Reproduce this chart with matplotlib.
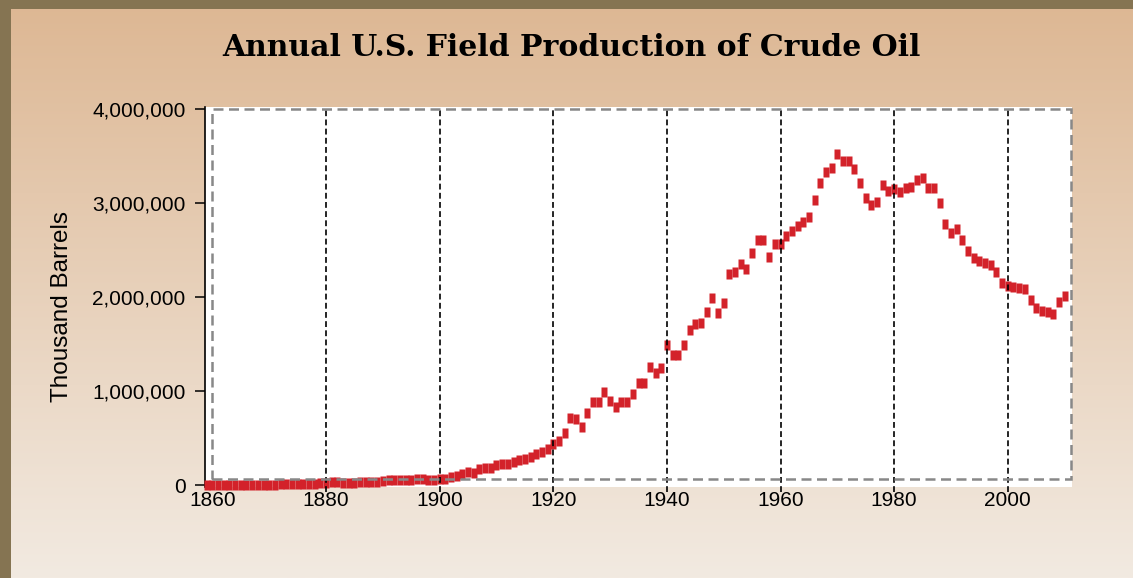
#!/usr/bin/env python3

import numpy as np
import matplotlib
matplotlib.use("Agg")
from matplotlib import pyplot as plt
from matplotlib.patches import Rectangle

# annual U.S. field production of crude oil, thousand barrels
years = list(range(1859, 2011))
production = [
	2, 500, 2114, 3057, 2611, 2116, 2498, 3598, 3347, 3646,                 # 1859-1868
	4215, 5261, 5205, 6293, 9894, 10927, 8788, 9133, 13350, 15397,          # 1869-1878
	19914, 26286, 27661, 30350, 23450, 24218, 21859, 28065, 28283, 27612,   # 1879-1888
	35164, 45824, 54293, 50515, 48431, 49344, 52892, 60960, 60476, 55364,   # 1889-1898
	57071, 63621, 69389, 88767, 100461, 117081, 134717, 126494, 166095, 178527,   # 1899-1908
	183171, 209557, 220449, 222935, 248446, 265763, 281104, 300767, 335316, 355928,   # 1909-1918
	378367, 440000, 472000, 555000, 710000, 700000, 620000, 765000, 885000, 885000,   # 1919-1928
	990000, 890000, 830000, 880000, 880000, 970000, 1080000, 1080000, 1260000, 1190000,   # 1929-1938
	1240000, 1490000, 1380000, 1380000, 1490000, 1650000, 1710000, 1720000, 1840000, 1990000,   # 1939-1948
	1830000, 1940000, 2240000, 2270000, 2350000, 2300000, 2470000, 2610000, 2610000, 2430000,   # 1949-1958
	2560000, 2560000, 2650000, 2700000, 2760000, 2800000, 2850000, 3030000, 3210000, 3330000,   # 1959-1968
	3370000, 3520000, 3450000, 3450000, 3360000, 3210000, 3050000, 2980000, 3010000, 3190000,   # 1969-1978
	3130000, 3150000, 3120000, 3160000, 3170000, 3240000, 3270000, 3160000, 3160000, 3000000,   # 1979-1988
	2780000, 2680000, 2720000, 2610000, 2490000, 2420000, 2380000, 2360000, 2340000, 2270000,   # 1989-1998
	2150000, 2120000, 2110000, 2100000, 2080000, 1970000, 1880000, 1850000, 1840000, 1820000,   # 1999-2008
	1950000, 2010000,                                                       # 2009-2010
]
grid_years = [1880, 1900, 1920, 1940, 1960, 1980, 2000]
x_ticks = [1860, 1880, 1900, 1920, 1940, 1960, 1980, 2000]
y_ticks = [0, 1000000, 2000000, 3000000, 4000000]

title = "Annual U.S. Field Production of Crude Oil"
y_title = "Thousand Barrels"

W, H = 1133, 578
fig = plt.figure(figsize = (W / 100, H / 100), dpi = 100)

# beige gradient background with a dark brown edge on top and left
bg = fig.add_axes([0, 0, 1, 1], zorder = -10)
top_c = np.array([221, 183, 147]) / 255.0
bot_c = np.array([242, 234, 225]) / 255.0
t = np.linspace(0, 1, 256)[:, None]
grad = top_c[None, :] * (1 - t) + bot_c[None, :] * t
bg.imshow(grad[:, None, :], aspect = "auto", extent = [0, 1, 0, 1])
bg.add_patch(Rectangle((0, 1 - 9 / H), 1, 9 / H, color = "#857452", lw = 0))
bg.add_patch(Rectangle((0, 0), 11 / W, 1, color = "#857452", lw = 0))
bg.set_xlim(0, 1)
bg.set_ylim(0, 1)
bg.axis("off")

ax = fig.add_axes([205 / W, 1 - 487 / H, 867 / W, 380 / H])
ax.set_facecolor("white")

# narrow upright red blocks as markers
block = [(-3, -5), (3, -5), (3, 5), (-3, 5)]
ax.plot(years, production, ls = "none", marker = block, ms = 7.8,
		mfc = "#D3222A", mec = "none", clip_on = False, zorder = 3)

for yr in grid_years:
	ax.axvline(yr, ymin = -0.014, ymax = 1, color = "black", lw = 1.2,
				ls = (0, (3.5, 2)), clip_on = False, zorder = 4)

# grey dashed frame inside the plot area
ax.add_patch(Rectangle((0.008, 0.02), 0.991, 0.975, transform = ax.transAxes,
				fill = False, ec = "#888888", lw = 1.8, ls = (0, (4, 2.2)),
				zorder = 5, clip_on = False))

ax.set_xlim(1858.7, 2011.3)
ax.set_ylim(-21000, 4021000)

ax.set_xticks(x_ticks)
ax.set_yticks(y_ticks)
ax.set_yticklabels(["{:,}".format(v) for v in y_ticks])

for s in ["top", "right", "bottom"]:
	ax.spines[s].set_visible(False)
ax.spines["left"].set_linewidth(1.2)

font = ["Liberation Sans", "DejaVu Sans"]
ax.tick_params(axis = "y", length = 7, width = 1.1, pad = 7, labelsize = 15)
ax.tick_params(axis = "x", length = 0, pad = 3, labelsize = 15)
for lbl in ax.get_xticklabels() + ax.get_yticklabels():
	lbl.set_family(font)

fig.text(62 / W, 1 - 306 / H, y_title, rotation = 90, ha = "center",
			va = "center", fontsize = 17.5, family = font)
fig.text(571 / W, 1 - 48 / H, title, ha = "center", va = "center",
			fontsize = 21.5, fontweight = "bold", family = ["DejaVu Serif"])

fig.savefig("out.png", dpi = 100)
